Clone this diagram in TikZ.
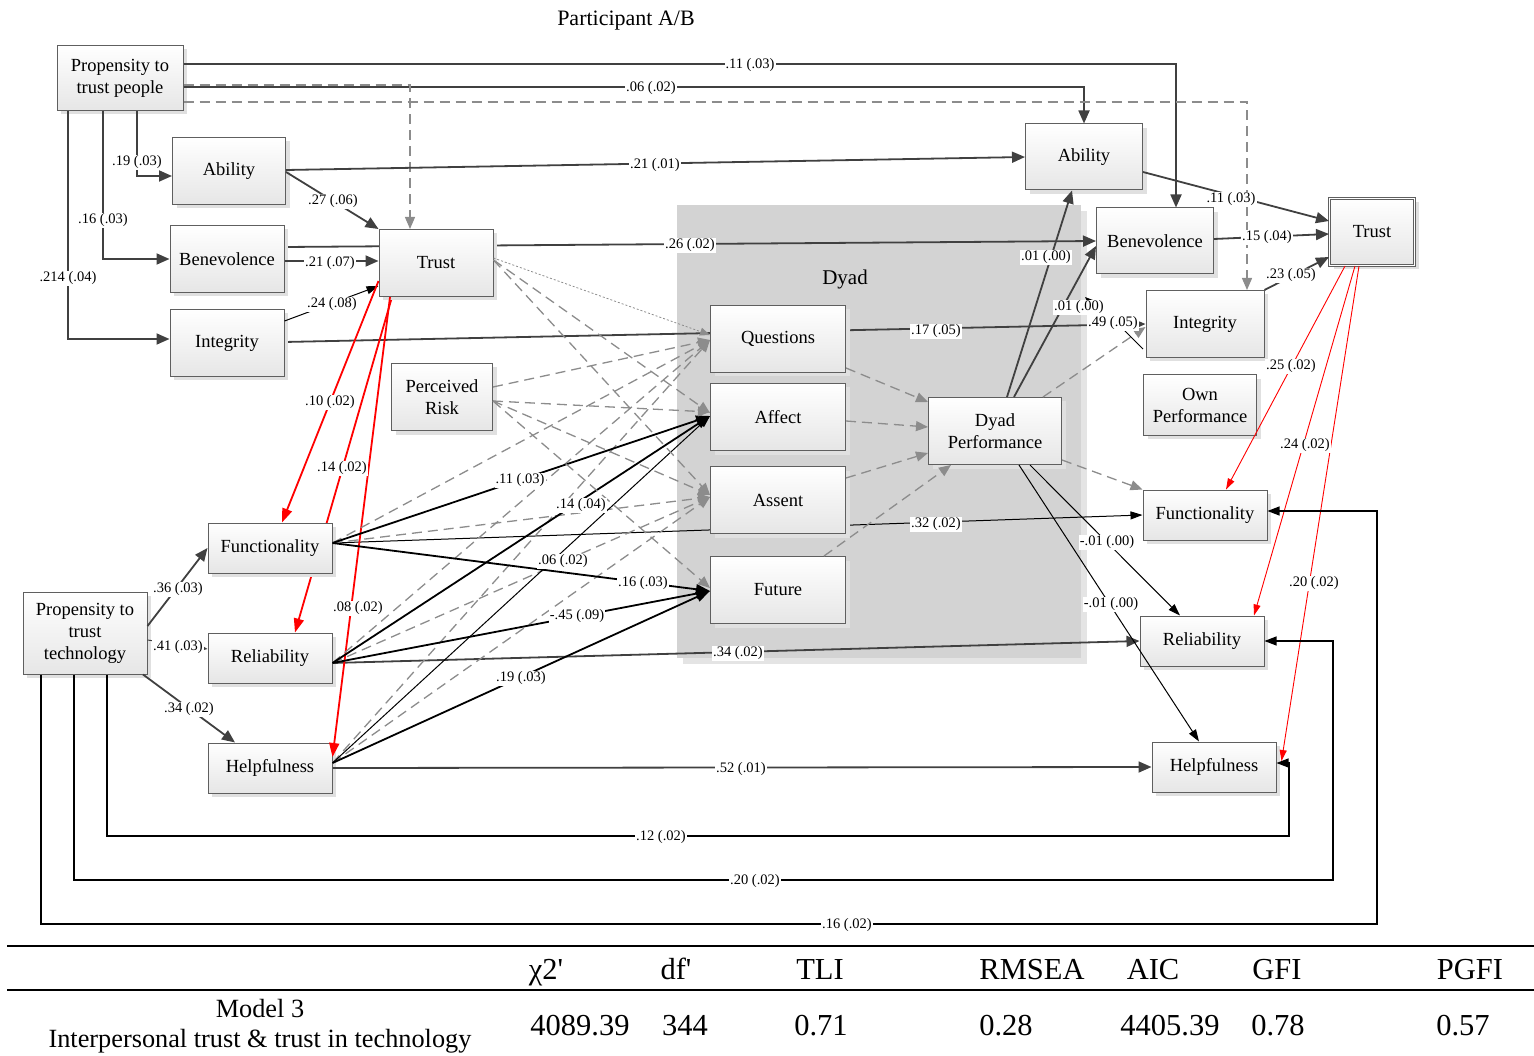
\documentclass[tikz,border=0pt]{standalone}
\usepackage{fontspec}
\setmainfont{Liberation Serif}
\usetikzlibrary{calc,arrows.meta,positioning,shadows}
\definecolor{boxLine}{RGB}{95,95,95}
\definecolor{boxShade}{RGB}{230,230,230}
\definecolor{pathDark}{RGB}{64,64,64}
\definecolor{dashGrey}{RGB}{140,140,140}
\definecolor{dyadGrey}{RGB}{211,211,211}
\definecolor{dyadEdge}{RGB}{228,228,228}
\pgfdeclarelayer{dyadbg}
\pgfdeclarelayer{edges}
\pgfdeclarelayer{front}
\pgfsetlayers{dyadbg,edges,main,front}
\newcommand{\boxfont}{\fontsize{18.5}{22}\selectfont}
\newcommand{\coeffont}{\fontsize{14.5}{16}\selectfont}
\newcommand{\tabfont}{\fontsize{30.5}{34}\selectfont}
\tikzset{
  box/.style={draw=boxLine,line width=1pt,top color=white,bottom color=boxShade,
    drop shadow={shadow xshift=4pt,shadow yshift=-4pt,fill=black!12,opacity=1},
    font=\boxfont,align=center,inner sep=2pt,minimum height=67pt},
  coef/.style={font=\coeffont,fill=white,inner sep=1pt,yshift=-1.5pt},
  darkArrow/.style={draw=pathDark,line width=1.8pt,-{Triangle[length=13pt,width=11pt]}},
  blackArrow/.style={draw=black,line width=1.8pt,-{Triangle[length=14pt,width=10pt]}},
  thinArrow/.style={draw=black,line width=1pt,-{Triangle[length=12pt,width=8pt]}},
  smallArrow/.style={draw=pathDark,line width=1pt,-{Triangle[length=6pt,width=5pt]}},
  dashArrow/.style={draw=dashGrey,line width=1.3pt,dash pattern=on 10pt off 6pt,-{Triangle[length=12pt,width=10pt]}},
  dotArrow/.style={draw=dashGrey,line width=0.8pt,dash pattern=on 2pt off 2pt,-{Triangle[length=10pt,width=8pt]}},
  redArrow/.style={draw=red,line width=1.8pt,-{Triangle[length=14pt,width=10pt]}},
  redThin/.style={draw=red,line width=0.9pt,-{Triangle[length=11pt,width=7pt]}},
  loopLine/.style={draw=black,line width=1.1pt,-{Triangle[length=12pt,width=9pt]}}
}

\begin{document}
\begin{tikzpicture}[x=1pt,y=-1pt]
\useasboundingbox (0,0) rectangle (1534,1056);

\node[font=\fontsize{22}{26}\selectfont] (title) at (626,21) {Participant A/B};

% dyad area
\begin{pgfonlayer}{dyadbg}
\node[fill=dyadGrey,minimum width=404pt,minimum height=453pt,inner sep=0pt,
  drop shadow={shadow xshift=6pt,shadow yshift=-6pt,fill=dyadEdge,opacity=1}] (dyad) at (879,431.5) {};
\end{pgfonlayer}
\node[font=\fontsize{21}{24}\selectfont] (dyadT) at (845,279) {Dyad};

% left side
\node[box,minimum width=126pt,minimum height=65pt] (ptp) at (120,78) {Propensity to\\trust people};
\node[box,minimum width=113pt] (abilL) at (229,171) {Ability};
\node[box,minimum width=114pt] (benL) at (227,259) {Benevolence};
\node[box,minimum width=114pt] (intL) at (227,343) {Integrity};
\node[box,minimum width=114pt] (trustL) at (436,263) {Trust};
\node[box,minimum width=101pt] (risk) at (442,397) {Perceived\\Risk};
\node[box,minimum width=124pt,minimum height=50pt] (funL) at (270,548) {Functionality};
\node[box,minimum width=124pt,minimum height=50pt] (relL) at (270,658) {Reliability};
\node[box,minimum width=124pt,minimum height=50pt] (helL) at (270,768) {Helpfulness};
\node[box,minimum width=124pt,minimum height=82pt] (ptt) at (85,633) {Propensity to\\trust\\technology};

% dyad
\node[box,minimum width=135pt] (ques) at (778,339) {Questions};
\node[box,minimum width=135pt] (aff) at (778,417) {Affect};
\node[box,minimum width=135pt] (ass) at (778,500) {Assent};
\node[box,minimum width=135pt] (fut) at (778,590) {Future};
\node[box,minimum width=133pt] (dp) at (995,431) {Dyad\\Performance};

% right side
\node[box,minimum width=117pt,minimum height=66pt] (abilR) at (1084,157) {Ability};
\node[box,minimum width=117pt,minimum height=66pt] (benR) at (1155,241) {Benevolence};
\node[box,minimum width=85pt,double=white,double distance=1.2pt] (trustR) at (1372,232) {Trust};
\node[box,minimum width=118pt] (intR) at (1205,324) {Integrity};
\node[box,minimum width=113pt,minimum height=60pt] (own) at (1200,405) {Own\\Performance};
\node[box,minimum width=124pt,minimum height=50pt] (funR) at (1205,515) {Functionality};
\node[box,minimum width=124pt,minimum height=50pt] (relR) at (1202,641) {Reliability};
\node[box,minimum width=124pt,minimum height=50pt] (helR) at (1214,767) {Helpfulness};

\coordinate (bendHel) at (1289,836);
\coordinate (bendRel) at (1333,880);
\coordinate (bendFun) at (1377,924);

% paths running behind boxes
\begin{pgfonlayer}{edges}
\draw[darkArrow] (benL.east |- 0,247) -- (benR.west |- 0,241);
\draw[darkArrow] (intL.east |- 0,342) -- (intR.west |- 0,324);
\draw[thinArrow] (funL.east |- 0,543) -- (funR.west |- 0,515);
\draw[redArrow] (392,0 |- trustL.south) -- (295,0 |- relL.north);
\end{pgfonlayer}

\begin{pgfonlayer}{front}
% propensity to trust people
\draw[darkArrow] (ptp.east |- 0,64) -| (1176,0 |- benR.north);
\draw[darkArrow] (ptp.east |- 0,87) -| (abilR.north);
\draw[dashArrow] (ptp.east |- 0,85) -| (410,0 |- trustL.north);
\draw[dashArrow] (ptp.east |- 0,102) -| (1247,0 |- intR.north);
\draw[darkArrow] (137,0 |- ptp.south) |- (abilL.west |- 0,176);
\draw[darkArrow] (103,0 |- ptp.south) |- (benL.west |- 0,259);
\draw[darkArrow] (68,0 |- ptp.south) |- (intL.west |- 0,339);
% trust antecedents
\draw[darkArrow] (abilL.east |- 0,172) -- (trustL.north west);
\draw[darkArrow] (benL.east |- 0,261) -- (trustL.west |- 0,261);
\draw[thinArrow] (intL.east |- 0,321) -- (trustL.west |- 0,286);
% stability paths
\draw[darkArrow] (abilL.east |- 0,170) -- (abilR.west |- 0,157);
\draw[darkArrow] (relL.east |- 0,663) -- (relR.west |- 0,641);
\draw[darkArrow] (helL.east |- 0,768) -- (helR.west);
% right trust
\draw[darkArrow] (abilR.east |- 0,172) -- (trustR.west |- 0,221);
\draw[darkArrow] (benR.east |- 0,239) -- (trustR.west |- 0,234);
\draw[darkArrow] (intR.north east) -- (trustR.west |- 0,257);
% dyad performance
\draw[darkArrow] (1007,0 |- dp.north) -- (1072,0 |- abilR.south);
\draw[darkArrow] (1014,0 |- dp.north) -- (benR.west |- 0,246);
\draw[dashArrow] (1043,0 |- dp.north) -- (intR.west |- 0,327);
\draw[dashArrow] (dp.east |- 0,460) -- (funR.north west);
\draw[thinArrow] (1030,0 |- dp.south) -- (1180,0 |- relR.north);
\draw[thinArrow] (1019,0 |- dp.south) -- (1199,0 |- helR.north);
\draw[dashArrow] (ques.east |- 0,368) -- (dp.west |- 0,402);
\draw[dashArrow] (aff.east |- 0,421) -- (dp.west |- 0,427);
\draw[dashArrow] (ass.east |- 0,478) -- (dp.west |- 0,453);
\draw[dashArrow] (824,0 |- fut.north) -- (951,0 |- dp.south);
\draw[black,line width=0.8pt,-{Triangle[length=9pt,width=7pt]}] (1100,311) -- (1085,297);
\draw[black,line width=0.8pt] (1124,330) -- (1143,349);
% trust -> technology
\draw[redArrow] (trustL.west |- 0,281) -- (282,0 |- funL.north);
\draw[redArrow] (390,0 |- trustL.south) -- (helL.east |- 0,757);
\draw[redThin] (1345,0 |- trustR.south) -- (1226,0 |- funR.north);
\draw[redThin] (1355,0 |- trustR.south) -- (1254,0 |- relR.north);
\draw[redThin] (1359,0 |- trustR.south) -- ($(helR.east)+(5,-6)$);
% propensity to trust technology
\draw[darkArrow] (ptt.east |- 0,626) -- (funL.west |- 0,548);
\draw[smallArrow] (ptt.east |- 0,640) -- (relL.west |- 0,649);
\draw[darkArrow] (143,0 |- ptt.south) -- (235,0 |- helL.north);
\draw[loopLine] (107,0 |- ptt.south) |- (bendHel) |- (helR.east |- 0,763);
\draw[loopLine] (74,0 |- ptt.south) |- (bendRel) |- (relR.east);
\draw[loopLine] (41,0 |- ptt.south) |- (bendFun) |- (funR.east |- 0,511);
% technology -> dyad
\foreach \src/\yy in {funL/543,relL/663,helL/763} {
  \draw[dashArrow] (\src.east |- 0,\yy) -- (ques.west |- 0,340);
  \draw[dashArrow] (\src.east |- 0,\yy) -- (ass.west |- 0,497);
}
\draw[blackArrow] (funL.east |- 0,543) -- (aff.west |- 0,416);
\draw[blackArrow] (funL.east |- 0,543) -- (fut.west |- 0,591);
\draw[blackArrow] (relL.east |- 0,663) -- (aff.west |- 0,416);
\draw[blackArrow] (relL.east |- 0,663) -- (fut.west |- 0,591);
\draw[thinArrow] (helL.east |- 0,763) -- (aff.west |- 0,416);
\draw[blackArrow] (helL.east |- 0,763) -- (fut.west |- 0,591);
% trust and risk -> dyad
\draw[dotArrow] (trustL.east |- 0,258) -- (ques.west |- 0,335);
\foreach \dst/\yy in {aff/413,ass/495}
  \draw[dashArrow] (trustL.east |- 0,260) -- (\dst.west |- 0,\yy);
\draw[dashArrow] (risk.east |- 0,387) -- (ques.west |- 0,340);
\foreach \dst/\yy in {aff/412,ass/495,fut/588}
  \draw[dashArrow] (risk.east |- 0,401) -- (\dst.west |- 0,\yy);

% coefficients
\foreach \x/\y/\t [count=\i] in {750/64/.11 (.03), 651/87/.06 (.02), 137/161/.19 (.03),
  103/219/.16 (.03), 68/277/.214 (.04), 333/200/.27 (.06), 330/262/.21 (.07),
  332/303/.24 (.08), 655/164/.21 (.01), 690/244/.26 (.02), 936/330/.17 (.05),
  1113/322/.49 (.05), 936/523/.32 (.02), 738/652/.34 (.02), 741/768/.52 (.01),
  1231/198/.11 (.03), 1267/236/.15 (.04), 1291/274/.23 (.05), 1046/256/.01 (.00),
  1079/306/.01 (.00), 1107/541/-.01 (.00), 1111/603/-.01 (.00), 330/401/.10 (.02),
  342/467/.14 (.02), 358/607/.08 (.02), 1291/365/.25 (.02), 1305/444/.24 (.02),
  1314/582/.20 (.02), 661/836/.12 (.02), 755/880/.20 (.02), 847/924/.16 (.02),
  178/588/.36 (.03), 178/646/.41 (.03), 189/708/.34 (.02), 520/479/.11 (.03),
  643/582/.16 (.03), 581/504/.14 (.04), 577/615/-.45 (.09), 563/560/.06 (.02),
  521/677/.19 (.03)}
  \node[coef] (c\i) at (\x,\y) {\t};
\end{pgfonlayer}

% fit table
\draw[line width=2pt] (7,946) -- (1534,946);
\draw[line width=2pt] (7,990) -- (1534,990);
\foreach \x/\t [count=\i] in {546/χ2\textquotesingle, 676/df\textquotesingle, 820/TLI, 1032/RMSEA, 1153/AIC, 1277/GFI, 1470/PGFI}
  \node[font=\tabfont,anchor=base,inner sep=0pt] (h\i) at (\x,979) {\t};
\foreach \x/\t [count=\i] in {580/4089.39, 685/344, 821/0.71, 1006/0.28, 1170/4405.39, 1278/0.78, 1463/0.57}
  \node[font=\tabfont,anchor=base,inner sep=0pt] (v\i) at (\x,1035) {\t};
\node[font=\fontsize{26.3}{30}\selectfont,anchor=base,inner sep=0pt] (model) at (260,1017) {Model 3};
\node[font=\fontsize{26.3}{30}\selectfont,anchor=base,inner sep=0pt] (modelDesc) at (260,1047) {Interpersonal trust \& trust in technology};
\end{tikzpicture}
\end{document}
